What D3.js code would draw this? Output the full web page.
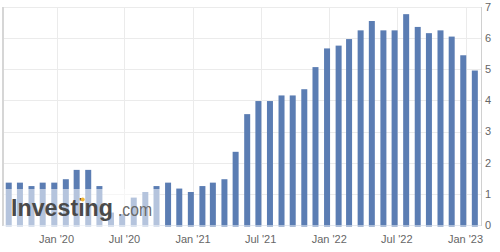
<!DOCTYPE html>
<html>
<head>
<meta charset="utf-8">
<script src="https://cdn.jsdelivr.net/npm/d3@7"></script>
<style>
  body { margin: 0; background: #fff; }
  svg { display: block; font-family: Arial, "Liberation Sans", sans-serif; }
</style>
</head>
<body>
<div id="chart"></div>
<script>
// monthly values, Sep 2019 .. Feb 2023
const months = ["2019-09","2019-10","2019-11","2019-12","2020-01","2020-02","2020-03","2020-04","2020-05","2020-06",
  "2020-07","2020-08","2020-09","2020-10","2020-11","2020-12","2021-01","2021-02","2021-03","2021-04",
  "2021-05","2021-06","2021-07","2021-08","2021-09","2021-10","2021-11","2021-12","2022-01","2022-02",
  "2022-03","2022-04","2022-05","2022-06","2022-07","2022-08","2022-09","2022-10","2022-11","2022-12",
  "2023-01","2023-02"];
const values = [1.36, 1.36, 1.25, 1.36, 1.36, 1.47, 1.77, 1.77, 1.25, 0.4,
  0.35, 0.88, 1.06, 1.25, 1.36, 1.17, 1.06, 1.25, 1.36, 1.47,
  2.35, 3.56, 3.98, 3.98, 4.16, 4.16, 4.36, 5.07, 5.67, 5.76,
  5.97, 6.25, 6.55, 6.25, 6.25, 6.77, 6.36, 6.16, 6.25, 6.05,
  5.45, 4.96];
const yTicks = [0, 1, 2, 3, 4, 5, 6, 7];
const xTickDates = ["2020-01","2020-07","2021-01","2021-07","2022-01","2022-07","2023-01"];

const W = 500, H = 252;
const plot = {left: 3, right: 481, top: 7, bottom: 225};
const parseMonth = d3.timeParse("%Y-%m");

const svg = d3.select("#chart").append("svg")
  .attr("width", W)
  .attr("height", H);

// scales
let x = d3.scaleTime()
  .domain([parseMonth("2020-01"), parseMonth("2023-01")])
  .range([56.5, 465.5]);
let y = d3.scaleLinear()
  .domain([0, 7])
  .range([plot.bottom, plot.top]);

//Horizontal grid
svg.append("g").selectAll("line")
  .data(yTicks)
  .enter()
  .append("line")
    .attr("x1", plot.left)
    .attr("x2", plot.right)
    .attr("y1", d => Math.round(y(d)) + 0.5)
    .attr("y2", d => Math.round(y(d)) + 0.5)
    .attr("stroke", "#ebebeb");

//Vertical grid at Jan / Jul
svg.append("g").selectAll("line")
  .data(xTickDates.map(parseMonth))
  .enter()
  .append("line")
    .attr("x1", d => Math.round(x(d)) + 0.5)
    .attr("x2", d => Math.round(x(d)) + 0.5)
    .attr("y1", plot.top)
    .attr("y2", plot.bottom)
    .attr("stroke", "#ebebeb");

//Left border
svg.append("line")
  .attr("x1", plot.left).attr("x2", plot.left)
  .attr("y1", plot.top).attr("y2", plot.bottom + 1)
  .attr("stroke", "#d6d6d6")
  .attr("stroke-width", 2);

//Bars - placed a few days before the month start, like the source
let barW = 6;
svg.append("g").selectAll("rect")
  .data(values)
  .enter()
  .append("rect")
    .attr("x", (d, i) => x(d3.timeDay.offset(parseMonth(months[i]), -6)) - barW / 2)
    .attr("y", d => y(d))
    .attr("width", barW)
    .attr("height", d => y(0) - y(d) + 1.5)
    .attr("fill", "#5b7db3");

//Bottom axis line
svg.append("line")
  .attr("x1", plot.left).attr("x2", plot.right)
  .attr("y1", plot.bottom + 0.5).attr("y2", plot.bottom + 0.5)
  .attr("stroke", "#dfe6f0")
  .attr("opacity", 0.6);

//Right axis line
svg.append("line")
  .attr("x1", plot.right + 0.5).attr("x2", plot.right + 0.5)
  .attr("y1", plot.top).attr("y2", plot.bottom + 1)
  .attr("stroke", "#d0d0d0");

//Y labels on the right
svg.append("g").selectAll("text")
  .data(yTicks)
  .enter()
  .append("text")
    .text(d => d)
    .attr("x", 485)
    .attr("y", d => y(d))
    .attr("dy", "0.35em")
    .attr("font-size", "11px")
    .attr("fill", "#666");

//X labels
let fmt = d3.timeFormat("%b '%y");
svg.append("g").selectAll("text")
  .data(xTickDates.map(parseMonth))
  .enter()
  .append("text")
    .text(d => fmt(d))
    .attr("x", d => x(d))
    .attr("y", 243)
    .attr("text-anchor", "middle")
    .attr("font-size", "11px")
    .attr("fill", "#666");

//Watermark - white veil then logo text
svg.append("rect")
  .attr("x", plot.left + 1)
  .attr("y", 189)
  .attr("width", 156)
  .attr("height", plot.bottom - 189 + 2)
  .attr("fill", "#fff")
  .attr("opacity", 0.55);

svg.append("text")
  .text("Investing")
  .attr("x", 11)
  .attr("y", 216)
  .attr("font-size", "24px")
  .attr("font-weight", "bold")
  .attr("textLength", 102)
  .attr("lengthAdjust", "spacingAndGlyphs")
  .attr("fill", "#4a4a4a");

svg.append("text")
  .text(".com")
  .attr("x", 118)
  .attr("y", 216)
  .attr("font-size", "19px")
  .attr("textLength", 34)
  .attr("lengthAdjust", "spacingAndGlyphs")
  .attr("fill", "#6a6a6a");

svg.append("circle")
  .attr("cx", 82.7)
  .attr("cy", 199.5)
  .attr("r", 2)
  .attr("fill", "#f2b632");
</script>
</body>
</html>
